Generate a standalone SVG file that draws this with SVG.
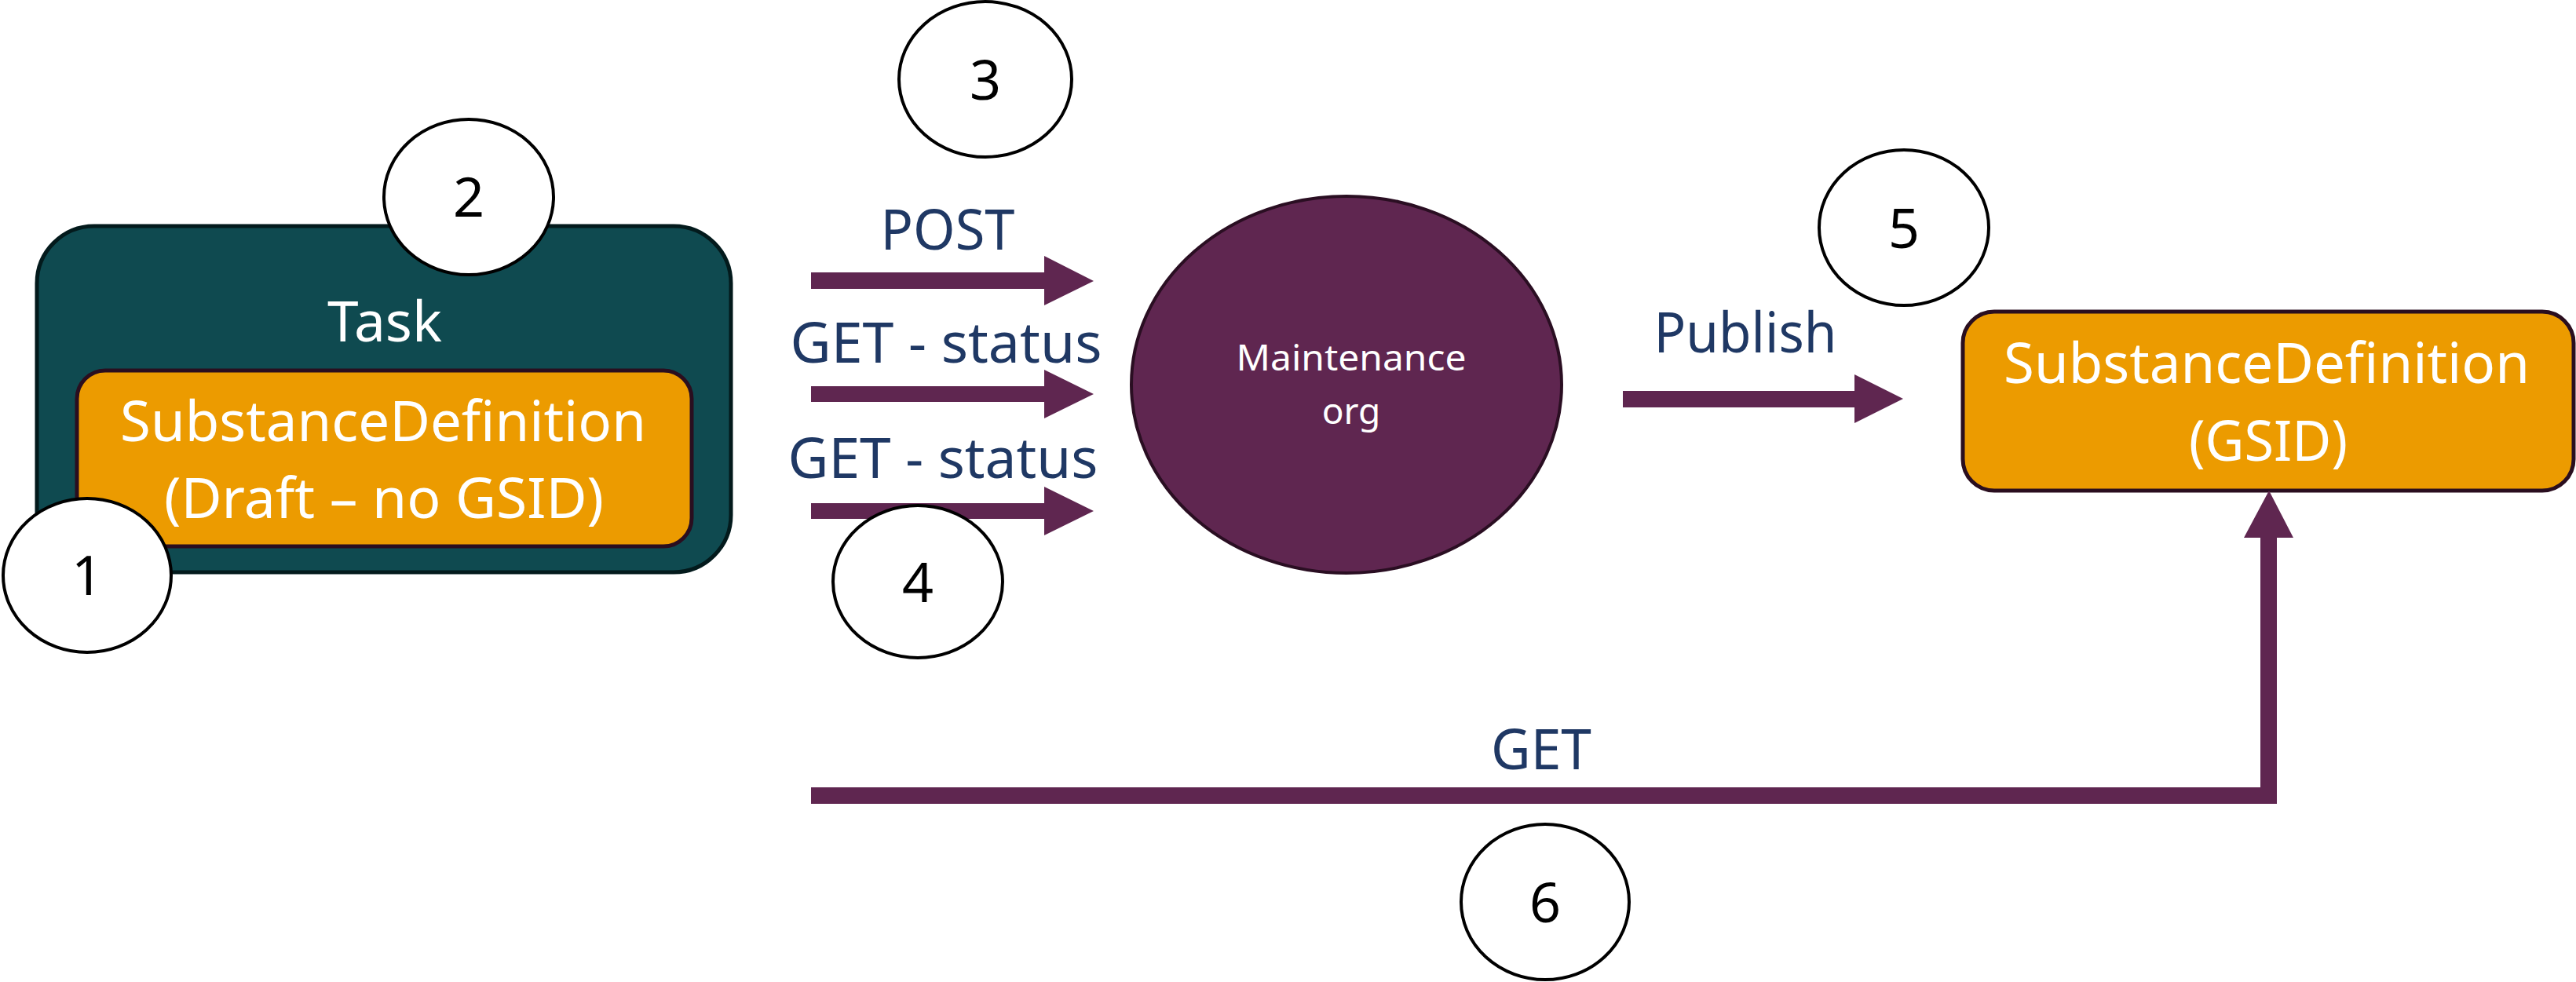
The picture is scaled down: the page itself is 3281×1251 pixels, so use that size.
<svg xmlns="http://www.w3.org/2000/svg" width="3281" height="1251" viewBox="0 0 3281 1251">
<style>
.lbl{font-family:"Noto Sans","Liberation Sans",sans-serif;font-size:72px;fill:#1F3864;text-anchor:middle}
.wt{font-family:"Noto Sans","Liberation Sans",sans-serif;font-size:72px;fill:#FFFFFF;text-anchor:middle}
.num{font-family:"Noto Sans","Liberation Sans",sans-serif;font-size:70px;fill:#000000;text-anchor:middle}
.step{fill:#FFFFFF;stroke:#000000;stroke-width:4}
.arr{fill:#5F2650}
.orange{fill:#EC9B00;stroke:#2A0E1F;stroke-width:5}
</style>
<rect width="3281" height="1251" fill="#FFFFFF"/>
<g id="task">
<rect x="47" y="288" width="884" height="441" rx="73" ry="73" fill="#0F4A50" stroke="#031A1C" stroke-width="5"/>
<text class="wt" x="490" y="435" textLength="146" lengthAdjust="spacingAndGlyphs">Task</text>
</g>
<g id="draft">
<rect x="98" y="472" width="783" height="224" rx="36" ry="36" class="orange"/>
<text class="wt" x="488" y="562" textLength="670" lengthAdjust="spacingAndGlyphs">SubstanceDefinition</text>
<text class="wt" x="489" y="660" textLength="560" lengthAdjust="spacingAndGlyphs">(Draft – no GSID)</text>
</g>
<g id="maintenance">
<ellipse cx="1715" cy="490" rx="274" ry="240" fill="#5F2650" stroke="#2A0E22" stroke-width="4"/>
<text class="wt" x="1721" y="472" style="font-size:46px" textLength="293" lengthAdjust="spacingAndGlyphs">Maintenance</text>
<text class="wt" x="1721" y="540" style="font-size:46px">org</text>
</g>
<g id="published">
<rect x="2500" y="397" width="778" height="228" rx="40" ry="40" class="orange"/>
<text class="wt" x="2887" y="488" textLength="670" lengthAdjust="spacingAndGlyphs">SubstanceDefinition</text>
<text class="wt" x="2889" y="587" textLength="202" lengthAdjust="spacingAndGlyphs">(GSID)</text>
</g>
<g id="connectors">
<polygon class="arr" points="1033,347 1330,347 1330,326 1393,358 1330,389 1330,368 1033,368"/>
<polygon class="arr" points="1033,492 1330,492 1330,471 1393,502 1330,533 1330,512 1033,512"/>
<polygon class="arr" points="1033,641 1330,641 1330,620 1393,651 1330,682 1330,661 1033,661"/>
<polygon class="arr" points="2067,498 2362,498 2362,477 2424,508 2362,539 2362,519 2067,519"/>
<polygon class="arr" points="1033,1003 2879,1003 2879,685 2858,685 2890,625 2921,685 2900,685 2900,1024 1033,1024"/>
<text class="lbl" x="1207" y="318" textLength="171" lengthAdjust="spacingAndGlyphs">POST</text>
<text class="lbl" x="1205" y="462" textLength="397" lengthAdjust="spacingAndGlyphs">GET - status</text>
<text class="lbl" x="1201" y="609" textLength="395" lengthAdjust="spacingAndGlyphs">GET - status</text>
<text class="lbl" x="2223" y="449" textLength="233" lengthAdjust="spacingAndGlyphs">Publish</text>
<text class="lbl" x="1963" y="980" textLength="128" lengthAdjust="spacingAndGlyphs">GET</text>
</g>
<g id="step1"><ellipse class="step" cx="111" cy="733" rx="107" ry="98"/><text class="num" x="111" y="758">1</text></g>
<g id="step2"><ellipse class="step" cx="597" cy="251" rx="108" ry="99"/><text class="num" x="597" y="276">2</text></g>
<g id="step3"><ellipse class="step" cx="1255" cy="101" rx="110" ry="99"/><text class="num" x="1255" y="127">3</text></g>
<g id="step4"><ellipse class="step" cx="1169" cy="741" rx="108" ry="97"/><text class="num" x="1169" y="767">4</text></g>
<g id="step5"><ellipse class="step" cx="2425" cy="290" rx="108" ry="99"/><text class="num" x="2425" y="316">5</text></g>
<g id="step6"><ellipse class="step" cx="1968" cy="1149" rx="107" ry="99"/><text class="num" x="1968" y="1175">6</text></g>
</svg>
